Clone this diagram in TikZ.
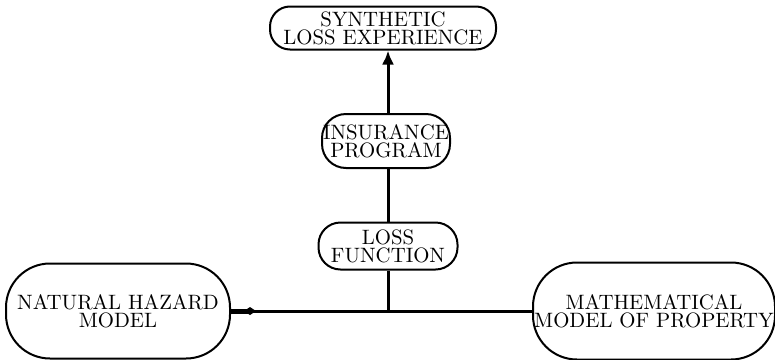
\documentclass[tikz,border=0pt]{standalone}
\usepackage{tikz}
\usetikzlibrary{arrows.meta}

\tikzset{
  blob/.style={draw, line width=1pt, rounded corners=#1, align=center, inner sep=0pt,
    font=\fontsize{10.4}{9}\selectfont},
  blob/.default=10pt,
  link/.style={line width=1.5pt}
}

\begin{document}
\begin{tikzpicture}[x=0.5pt,y=-0.5pt]
\useasboundingbox (0,0) rectangle (775,359);

\node[blob=10pt, minimum width=113pt, minimum height=21.5pt] (synth) at (383,28) {SYNTHETIC\\LOSS EXPERIENCE};
\node[blob=12pt, minimum width=64pt, minimum height=27pt] (insur) at (386,141) {INSURANCE\\PROGRAM};
\node[blob=11pt, minimum width=69.5pt, minimum height=23.5pt] (lossfn) at (388,246) {LOSS\\FUNCTION};
\node[blob=22pt, minimum width=112pt, minimum height=47.5pt] (hazard) at (118,311) {NATURAL HAZARD\\MODEL};
\node[blob=22pt, minimum width=121pt, minimum height=48.5pt] (property) at (654,311) {MATHEMATICAL\\MODEL OF PROPERTY};

\coordinate (knot) at (250,311);
\coordinate (junc) at (388,311);

\draw[link] (hazard.east) -- (property.west);
\draw[line width=2.5pt] (hazard.east) -- (knot);
\fill (knot) +(-6,0) -- +(0,-4) -- +(6,0) -- +(0,4) -- cycle;
\draw[link] (lossfn.south) -- (junc);
\draw[link] (lossfn.north) -- (lossfn.north |- insur.south);
\draw[link, -{Latex[length=7pt,width=6pt]}] (lossfn.north |- insur.north) -- (lossfn.north |- synth.south);
\end{tikzpicture}
\end{document}
